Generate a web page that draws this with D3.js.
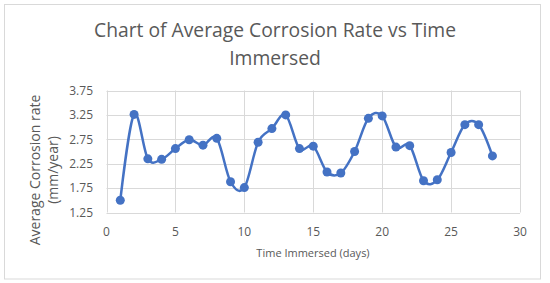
<!DOCTYPE html>
<html>
<head>
  <script src='https://d3js.org/d3.v7.min.js'></script>
  <style>
    body { margin: 0; background: #fff; }
    text { font-family: 'Open Sans', sans-serif; fill: #595959; }
  </style>
</head>
<body>
  <svg id="canvas" width="550" height="283"></svg>
  <script>
    // days immersed and measured average corrosion rate
    const days = [1, 2, 3, 4, 5, 6, 7, 8, 9, 10, 11, 12, 13, 14,
      15, 16, 17, 18, 19, 20, 21, 22, 23, 24, 25, 26, 27, 28];
    const rates = [1.50, 3.26, 2.35, 2.34, 2.56, 2.74, 2.63, 2.77, 1.88, 1.76, 2.69, 2.97, 3.25, 2.56,
      2.61, 2.08, 2.06, 2.50, 3.18, 3.23, 2.59, 2.62, 1.90, 1.92, 2.48, 3.05, 3.05, 2.41];
    const xTicks = [0, 5, 10, 15, 20, 25, 30];
    const yTicks = [1.25, 1.75, 2.25, 2.75, 3.25, 3.75];

    const svg = d3.select('svg#canvas');
    const blue = '#4472c4';

    // outer chart border
    svg.append('rect')
      .attr('x', 4.5).attr('y', 4.5)
      .attr('width', 536).attr('height', 274.5)
      .attr('fill', 'none')
      .attr('stroke', '#d9d9d9');

    const xScale = d3.scaleLinear().domain([0, 30]).range([106.5, 520]);
    const yScale = d3.scaleLinear().domain([1.25, 3.75]).range([212.5, 90.5]);

    // gridlines
    svg.append('g').selectAll('line.h')
      .data(yTicks)
      .join('line')
      .attr('x1', xScale(0)).attr('x2', xScale(30))
      .attr('y1', d => Math.round(yScale(d)) + 0.5)
      .attr('y2', d => Math.round(yScale(d)) + 0.5)
      .attr('stroke', '#d9d9d9');
    svg.append('g').selectAll('line.v')
      .data(xTicks)
      .join('line')
      .attr('x1', d => Math.round(xScale(d)) + 0.5)
      .attr('x2', d => Math.round(xScale(d)) + 0.5)
      .attr('y1', yScale(3.75)).attr('y2', yScale(1.25))
      .attr('stroke', '#d9d9d9');

    // tick labels
    svg.append('g').selectAll('text')
      .data(yTicks)
      .join('text')
      .attr('x', 93)
      .attr('y', d => yScale(d))
      .attr('dy', '0.35em')
      .attr('text-anchor', 'end')
      .style('font-size', '12px')
      .text(d => d.toFixed(2));
    svg.append('g').selectAll('text')
      .data(xTicks)
      .join('text')
      .attr('x', d => xScale(d))
      .attr('y', 232)
      .attr('dy', '0.35em')
      .attr('text-anchor', 'middle')
      .style('font-size', '12px')
      .text(d => d);

    // smoothed line and markers
    const line = d3.line()
      .x((d, i) => xScale(days[i]))
      .y(d => yScale(d))
      .curve(d3.curveCatmullRom.alpha(0));
    svg.append('path')
      .attr('d', line(rates))
      .attr('fill', 'none')
      .attr('stroke', blue)
      .attr('stroke-width', 2.5);
    svg.append('g').selectAll('circle')
      .data(rates)
      .join('circle')
      .attr('cx', (d, i) => xScale(days[i]))
      .attr('cy', d => yScale(d))
      .attr('r', 4.5)
      .attr('fill', blue);

    // titles
    svg.append('text')
      .attr('x', 275).attr('y', 37)
      .attr('text-anchor', 'middle')
      .style('font-size', '19.3px')
      .text('Chart of Average Corrosion Rate vs Time');
    svg.append('text')
      .attr('x', 275).attr('y', 65)
      .attr('text-anchor', 'middle')
      .style('font-size', '19.3px')
      .text('Immersed');

    svg.append('text')
      .attr('x', 313).attr('y', 253)
      .attr('dy', '0.35em')
      .attr('text-anchor', 'middle')
      .style('font-size', '11px')
      .text('Time Immersed (days)');

    const yTitle = svg.append('text')
      .attr('transform', 'translate(35,170)rotate(-90)')
      .attr('text-anchor', 'middle')
      .style('font-size', '14px');
    yTitle.append('tspan').attr('x', 0).attr('dy', '0.35em').text('Average Corrosion rate');
    yTitle.append('tspan').attr('x', 0).attr('dy', '1.3em').text('(mm/year)');
  </script>
</body>
</html>
